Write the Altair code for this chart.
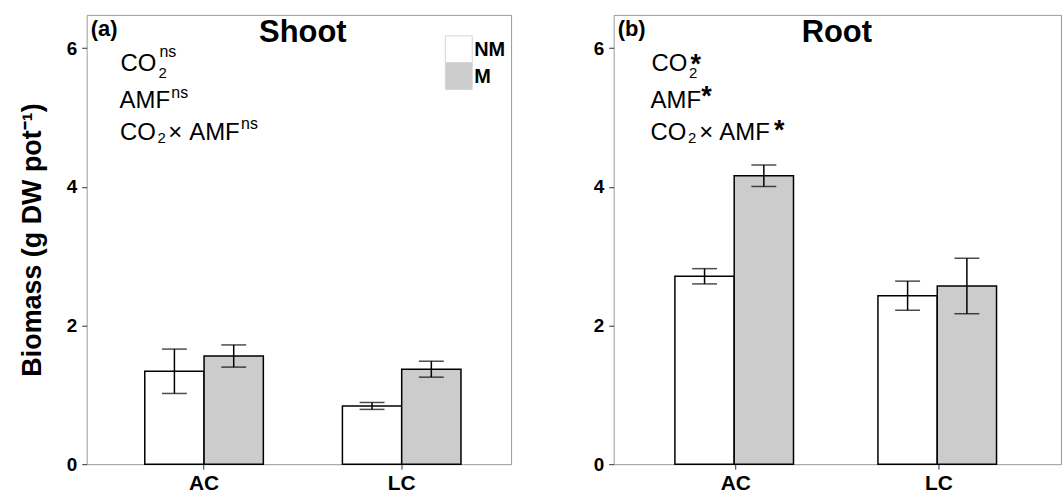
import altair as alt
import pandas as pd

# Group / treatment labels
groups = ["AC", "AC", "LC", "LC"]
treatments = ["NM", "M", "NM", "M"]
treatment_order = ["NM", "M"]
fill_colors = ["#ffffff", "#cccccc"]

# Shoot biomass: means and standard errors (g DW pot-1)
shoot_mean = [1.34, 1.56, 0.84, 1.37]
shoot_se = [0.32, 0.16, 0.05, 0.115]

# Root biomass: means and standard errors (g DW pot-1)
root_mean = [2.71, 4.16, 2.43, 2.57]
root_se = [0.11, 0.155, 0.21, 0.40]

y_ticks = [0, 2, 4, 6]
y_max = 6.48

FONT = "Liberation Sans"
PANEL_H = 451


def frame(means, ses):
    return pd.DataFrame({
        "group": groups,
        "treatment": treatments,
        "mean": means,
        "lo": [m - s for m, s in zip(means, ses)],
        "hi": [m + s for m, s in zip(means, ses)],
    })


def label(text, x, y, size, weight="normal", align="left", baseline="alphabetic"):
    return alt.Chart(pd.DataFrame({"t": [text]})).mark_text(
        font=FONT, fontSize=size, fontWeight=weight, align=align,
        baseline=baseline, color="black",
    ).encode(x=alt.value(x), y=alt.value(y), text="t:N")


def key(y0, y1, color, x0, x1):
    return alt.Chart(pd.DataFrame({"k": [0]})).mark_rect(
        fill=color, stroke="#d6d6d6", strokeWidth=1
    ).encode(x=alt.value(x0), x2=alt.value(x1), y=alt.value(y0), y2=alt.value(y1))


def panel(df, width, pad_outer, align, y_title, texts):
    y_axis = alt.Axis(
        values=y_ticks, format="d", grid=False, domain=False,
        labelFont=FONT, labelFontSize=19, labelFontWeight="bold", labelColor="black",
        labelPadding=5, tickColor="#333333", tickSize=5, tickWidth=1,
        titleFont=FONT, titleFontSize=27, titleFontWeight="bold", titleColor="black",
        titlePadding=20,
    )
    y_scale = alt.Scale(domain=[0, y_max], nice=False, zero=True)
    base = alt.Chart(df).encode(
        x=alt.X(
            "group:N", sort=["AC", "LC"],
            scale=alt.Scale(paddingInner=0.4, paddingOuter=pad_outer, align=align),
            axis=alt.Axis(
                title=None, labelAngle=0, domain=False, grid=False,
                labelFont=FONT, labelFontSize=21, labelFontWeight="bold",
                labelColor="black", labelPadding=3,
                tickColor="#333333", tickSize=5, tickWidth=1,
            ),
        ),
        xOffset=alt.XOffset("treatment:N", sort=treatment_order,
                            scale=alt.Scale(paddingInner=0, paddingOuter=0)),
    )
    if y_title:
        y_enc = alt.Y("mean:Q", scale=y_scale, axis=y_axis, title=y_title)
    else:
        y_enc = alt.Y("mean:Q", scale=y_scale, axis=y_axis, title=None)
    bars = base.mark_bar(stroke="black", strokeWidth=1.5).encode(
        y=y_enc,
        fill=alt.Fill("treatment:N", sort=treatment_order,
                      scale=alt.Scale(domain=treatment_order, range=fill_colors),
                      legend=None),
    )
    stems = base.mark_rule(color="black", strokeWidth=1.5).encode(y="lo:Q", y2="hi:Q")
    caps_lo = base.mark_tick(color="black", size=25, thickness=1.5).encode(y="lo:Q")
    caps_hi = base.mark_tick(color="black", size=25, thickness=1.5).encode(y="hi:Q")
    layers = [bars, stems, caps_lo, caps_hi] + texts
    return alt.layer(*layers).properties(width=width, height=PANEL_H)


# Shoot panel annotations
shoot_texts = [
    label("(a)", 4, 21, 22, "bold"),
    label("Shoot", 217, 27, 31, "bold", align="center"),
    label("CO", 34, 56, 24),
    label("2", 72, 63, 15),
    label("ns", 73, 42, 16),
    label("AMF", 33, 93.5, 24),
    label("ns", 85, 83, 16),
    label("CO", 33.5, 125.5, 24),
    label("2", 71, 128.5, 15),
    label("×", 82, 125.5, 24),
    label("AMF", 103, 125.5, 24),
    label("ns", 155, 115, 16),
    key(21, 48, fill_colors[0], 360, 387),
    key(48, 75, fill_colors[1], 360, 387),
    label("NM", 389, 35, 20, "bold", baseline="middle"),
    label("M", 389, 62, 20, "bold", baseline="middle"),
]

# Root panel annotations
root_texts = [
    label("(b)", 4, 21, 22, "bold"),
    label("Root", 224, 27, 31, "bold", align="center"),
    label("CO", 38, 56, 24),
    label("2", 75.5, 63, 15),
    label("*", 77, 58, 27, "bold"),
    label("AMF", 37, 93.5, 24),
    label("*", 88, 90, 27, "bold"),
    label("CO", 37, 125.5, 24),
    label("2", 74.5, 128.5, 15),
    label("×", 86, 125.5, 24),
    label("AMF", 106, 125.5, 24),
    label("*", 161, 125, 27, "bold"),
]

shoot = panel(frame(shoot_mean, shoot_se), 426, 0.2737, 0.537,
              "Biomass (g DW pot⁻¹)", shoot_texts)
root = panel(frame(root_mean, root_se), 449, 0.3015, 0.5, None, root_texts)

chart = alt.hconcat(shoot, root, spacing=80).properties(
    padding={"left": 17, "top": 13, "right": 0, "bottom": 0}
).configure(font=FONT).configure_view(stroke="#9a9a9a", strokeWidth=1)

chart.save("out.html", embed_options={"renderer": "svg", "actions": False})
